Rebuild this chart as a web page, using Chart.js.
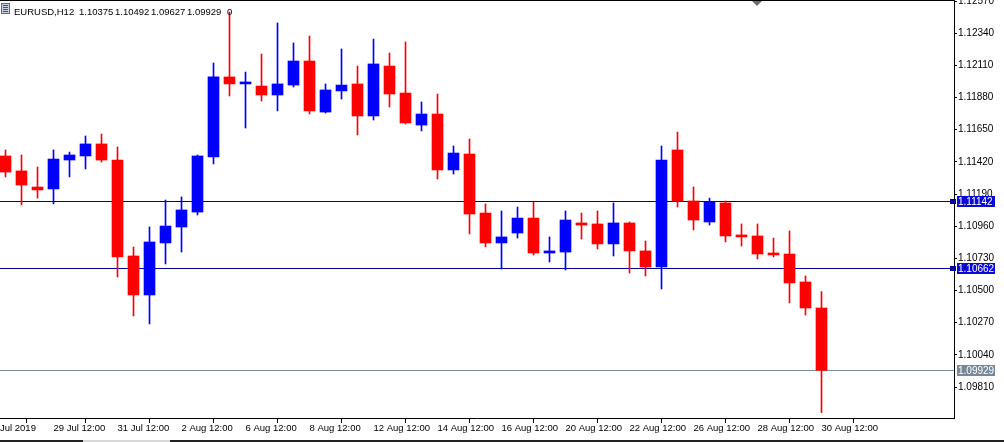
<!DOCTYPE html>
<html>
<head>
<meta charset="utf-8">
<script src="https://cdn.jsdelivr.net/npm/chart.js@4.4.1/dist/chart.umd.min.js"></script>
<style>
  html, body { margin: 0; padding: 0; background: #fff; overflow: hidden; }
  #wrap { width: 1004px; height: 442px; position: relative; }
</style>
</head>
<body>
<div id="wrap"><canvas id="chart" width="1004" height="442"></canvas></div>
<script>
'use strict';

/*--- data: EURUSD H12 bars ---*/
var times = [
  '26 Jul 00:00', '26 Jul 12:00', '29 Jul 00:00', '29 Jul 12:00', '30 Jul 00:00', '30 Jul 12:00',
  '31 Jul 00:00', '31 Jul 12:00', '1 Aug 00:00', '1 Aug 12:00', '2 Aug 00:00', '2 Aug 12:00',
  '5 Aug 00:00', '5 Aug 12:00', '6 Aug 00:00', '6 Aug 12:00', '7 Aug 00:00', '7 Aug 12:00',
  '8 Aug 00:00', '8 Aug 12:00', '9 Aug 00:00', '9 Aug 12:00', '12 Aug 00:00', '12 Aug 12:00',
  '13 Aug 00:00', '13 Aug 12:00', '14 Aug 00:00', '14 Aug 12:00', '15 Aug 00:00', '15 Aug 12:00',
  '16 Aug 00:00', '16 Aug 12:00', '19 Aug 00:00', '19 Aug 12:00', '20 Aug 00:00', '20 Aug 12:00',
  '21 Aug 00:00', '21 Aug 12:00', '22 Aug 00:00', '22 Aug 12:00', '23 Aug 00:00', '23 Aug 12:00',
  '26 Aug 00:00', '26 Aug 12:00', '27 Aug 00:00', '27 Aug 12:00', '28 Aug 00:00', '28 Aug 12:00',
  '29 Aug 00:00', '29 Aug 12:00', '30 Aug 00:00', '30 Aug 12:00'
];
var open = [
  1.11462, 1.11355, 1.11240, 1.11226, 1.11433, 1.11462, 1.11548, 1.11433, 1.10747, 1.10468,
  1.10840, 1.10954, 1.11061, 1.11455, 1.12027, 1.11977, 1.11962, 1.11898, 1.11969, 1.12141,
  1.11776, 1.11927, 1.11977, 1.11748, 1.12105, 1.11912, 1.11683, 1.11762, 1.11362, 1.11476,
  1.11054, 1.10840, 1.10911, 1.11018, 1.10768, 1.10775, 1.10983, 1.10976, 1.10833, 1.10983,
  1.10783, 1.10668, 1.11505, 1.11140, 1.10990, 1.11126, 1.10897, 1.10890, 1.10768, 1.10761,
  1.10561, 1.10375
];
var high = [
  1.11505, 1.11469, 1.11383, 1.11505, 1.11490, 1.11605, 1.11619, 1.11526, 1.10811, 1.10954,
  1.11147, 1.11169, 1.11469, 1.12127, 1.12491, 1.12062, 1.12191, 1.12413, 1.12270, 1.12320,
  1.11977, 1.12227, 1.12105, 1.12298, 1.12198, 1.12277, 1.11848, 1.11905, 1.11533, 1.11583,
  1.11119, 1.11069, 1.11097, 1.11133, 1.10883, 1.11069, 1.11054, 1.11069, 1.11126, 1.10990,
  1.10854, 1.11533, 1.11633, 1.11240, 1.11161, 1.11140, 1.10976, 1.10976, 1.10875, 1.10926,
  1.10604, 1.10492
];
var low = [
  1.11312, 1.11111, 1.11161, 1.11119, 1.11312, 1.11369, 1.11419, 1.10597, 1.10318, 1.10261,
  1.10690, 1.10775, 1.11040, 1.11405, 1.11891, 1.11662, 1.11855, 1.11784, 1.11955, 1.11762,
  1.11769, 1.11869, 1.11612, 1.11719, 1.11812, 1.11691, 1.11641, 1.11297, 1.11333, 1.10904,
  1.10811, 1.10654, 1.10875, 1.10754, 1.10704, 1.10647, 1.10868, 1.10797, 1.10747, 1.10625,
  1.10604, 1.10511, 1.11097, 1.10933, 1.10968, 1.10847, 1.10818, 1.10725, 1.10740, 1.10411,
  1.10325, 1.09627
];
var close = [
  1.11347, 1.11254, 1.11219, 1.11440, 1.11469, 1.11548, 1.11433, 1.10740, 1.10468, 1.10847,
  1.10961, 1.11076, 1.11462, 1.12027, 1.11977, 1.11991, 1.11898, 1.11977, 1.12141, 1.11784,
  1.11934, 1.11969, 1.11748, 1.12120, 1.11905, 1.11698, 1.11762, 1.11362, 1.11483, 1.11047,
  1.10840, 1.10883, 1.11018, 1.10768, 1.10783, 1.11004, 1.10968, 1.10833, 1.10983, 1.10783,
  1.10668, 1.11433, 1.11140, 1.11004, 1.11133, 1.10890, 1.10883, 1.10761, 1.10754, 1.10554,
  1.10375, 1.09929
];

/*--- axis ticks ---*/
var priceTicks = [1.09810, 1.10040, 1.10270, 1.10500, 1.10730, 1.10960, 1.11190, 1.11420,
                  1.11650, 1.11880, 1.12110, 1.12340, 1.12570];
var timeTickIdx = [3, 7, 11, 15, 19, 23, 27, 31, 35, 39, 43, 47, 51];

/*--- horizontal lines ---*/
var hLines = [1.11142, 1.10662];
var bidLine = 1.09929;

var UP = '#0000ff', DOWN = '#ff0000';
var LINE = '#0000a0';
var FONT = 'Liberation Sans';

var bodies = [], wicks = [], colors = [];
for (var i = 0; i < times.length; i++) {
  bodies.push({ x: i, y: [open[i], close[i]] });
  wicks.push({ x: i, y: [low[i], high[i]] });
  colors.push(close[i] >= open[i] ? UP : DOWN);
}

var xMin = -0.34375, xMax = 59.28125;
var yMin = 1.095884, yMax = 1.125772;

function noPad(scale) {
  scale.paddingTop = 0; scale.paddingBottom = 0;
  scale.paddingLeft = 0; scale.paddingRight = 0;
}

/*--- extras drawn on top of the scales ---*/
var mtOverlay = {
  id: 'mtOverlay',
  beforeDatasetsDraw: function (chart) {
    var ctx = chart.ctx, y = chart.scales.y, a = chart.chartArea;
    ctx.save();
    ctx.lineWidth = 1;
    ctx.strokeStyle = LINE;
    hLines.forEach(function (v) {
      var py = Math.round(y.getPixelForValue(v)) + 0.5;
      ctx.beginPath(); ctx.moveTo(a.left, py); ctx.lineTo(a.right, py); ctx.stroke();
    });
    ctx.strokeStyle = '#7788a0';
    var pb = Math.round(y.getPixelForValue(bidLine)) + 0.5;
    ctx.beginPath(); ctx.moveTo(a.left, pb); ctx.lineTo(a.right, pb); ctx.stroke();
    ctx.restore();
  },
  afterDraw: function (chart) {
    var ctx = chart.ctx, y = chart.scales.y, a = chart.chartArea;
    ctx.save();
    ctx.font = '10px "' + FONT + '"';
    ctx.textBaseline = 'middle';
    ctx.textAlign = 'left';

    function priceBox(v, fill) {
      var py = Math.round(y.getPixelForValue(v));
      ctx.fillStyle = fill;
      ctx.fillRect(957, py - 5, 38, 11);
      ctx.fillStyle = '#fff';
      ctx.fillText(v.toFixed(5), 958, py + 1);
    }
    hLines.forEach(function (v) {
      var py = Math.round(y.getPixelForValue(v));
      ctx.fillStyle = LINE;
      ctx.fillRect(950, py - 2, 6, 5);
      priceBox(v, '#0a0ad2');
    });
    priceBox(bidLine, '#778899');

    // top border and shift marker
    ctx.fillStyle = '#000';
    ctx.fillRect(0, 0, a.right, 1);
    ctx.fillStyle = '#666e78';
    ctx.beginPath(); ctx.moveTo(752, 1); ctx.lineTo(762, 1); ctx.lineTo(757, 6); ctx.closePath(); ctx.fill();

    // header
    ctx.fillStyle = '#c8cfe0';
    ctx.fillRect(1, 3, 9, 11);
    ctx.strokeStyle = '#5a6a9a';
    ctx.lineWidth = 1;
    ctx.strokeRect(1.5, 3.5, 8, 10);
    ctx.fillStyle = '#3c4ea0';
    for (var r = 0; r < 4; r++) ctx.fillRect(3, 5 + r * 2, 5, 1);
    ctx.fillStyle = '#000';
    ctx.font = '9.5px "' + FONT + '"';
    var parts = [['EURUSD,H12', 14], ['1.10375', 79], ['1.10492', 115], ['1.09627', 151], ['1.09929', 187], ['0', 227]];
    parts.forEach(function (p) { ctx.fillText(p[0], p[1], 12); });

    // window bottom strip
    ctx.fillStyle = '#222';
    ctx.fillRect(0, 440, 83, 2);
    ctx.fillRect(170, 440, 834, 2);
    ctx.fillStyle = '#d8d8d8';
    ctx.fillRect(83, 440, 87, 2);
    ctx.restore();
  }
};

new Chart(document.getElementById('chart'), {
  type: 'bar',
  data: {
    datasets: [
      {
        label: 'body',
        data: bodies,
        backgroundColor: colors,
        borderWidth: 0,
        barThickness: 11,
        minBarLength: 2,
        grouped: false,
        order: 1
      },
      {
        label: 'wick',
        data: wicks,
        backgroundColor: colors,
        borderWidth: 0,
        barThickness: 1,
        grouped: false,
        order: 2
      }
    ]
  },
  options: {
    responsive: false,
    animation: false,
    devicePixelRatio: 1,
    layout: { padding: 0 },
    plugins: { legend: { display: false }, tooltip: { enabled: false } },
    scales: {
      x: {
        type: 'linear',
        offset: false,
        min: xMin,
        max: xMax,
        afterBuildTicks: function (scale) {
          scale.ticks = [{ value: xMin }].concat(timeTickIdx.map(function (v) { return { value: v }; }));
        },
        afterFit: function (scale) { scale.height = 24; noPad(scale); },
        grid: { drawOnChartArea: false, drawTicks: true, tickLength: 5, color: '#000' },
        border: { display: true, color: '#000' },
        ticks: {
          autoSkip: false,
          maxRotation: 0,
          align: 'start',
          padding: 0,
          color: '#000',
          font: { family: FONT, size: 9.5 },
          callback: function (v) {
            if (v === xMin) return 'Jul 2019';
            return times[Math.round(v)];
          }
        }
      },
      y: {
        position: 'right',
        min: yMin,
        max: yMax,
        afterBuildTicks: function (scale) {
          scale.ticks = priceTicks.map(function (v) { return { value: v }; });
        },
        afterFit: function (scale) { scale.width = 50; noPad(scale); },
        grid: { drawOnChartArea: false, drawTicks: true, tickLength: 3, color: '#000' },
        border: { display: true, color: '#000' },
        ticks: {
          padding: 1,
          color: '#000',
          font: { family: FONT, size: 10 },
          callback: function (v) { return v.toFixed(5); }
        }
      }
    }
  },
  plugins: [mtOverlay]
});
</script>
</body>
</html>
